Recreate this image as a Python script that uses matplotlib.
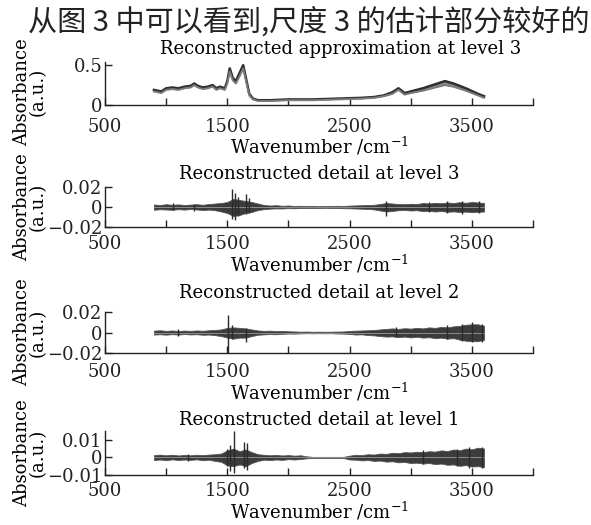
import matplotlib
matplotlib.use("Agg")
import matplotlib.pyplot as plt

plt.rcParams['font.family'] = ['DejaVu Serif']
plt.rcParams['mathtext.fontset'] = 'dejavuserif'
plt.rcParams['font.size'] = 13

# page text above the figure
caption = "从图 3 中可以看到,尺度 3 的估计部分较好的"

# x ticks (cm^-1)
xticks = [500, 1000, 1500, 2000, 2500, 3000, 3500, 4000]
xticklabels = ['500', '', '1500', '', '2500', '', '3500', '']

# reconstructed approximation at level 3: upper (dark) and lower (light) traces
wn_approx = [900, 930, 960, 1000, 1050, 1100, 1150, 1200, 1230, 1260, 1300, 1340,
             1380, 1410, 1440, 1480, 1500, 1520, 1545, 1570, 1600, 1630, 1655,
             1680, 1710, 1750, 1850, 2000, 2200, 2400, 2600, 2700, 2780, 2850,
             2900, 2950, 3000, 3100, 3200, 3280, 3350, 3450, 3550, 3600]
approx_upper = [0.19, 0.18, 0.17, 0.21, 0.22, 0.21, 0.23, 0.24, 0.27, 0.24, 0.22, 0.23,
                0.25, 0.21, 0.23, 0.21, 0.30, 0.46, 0.34, 0.30, 0.40, 0.50, 0.32,
                0.14, 0.08, 0.06, 0.06, 0.07, 0.07, 0.08, 0.09, 0.10, 0.12, 0.16,
                0.21, 0.15, 0.17, 0.21, 0.26, 0.30, 0.27, 0.21, 0.14, 0.11]
approx_lower = [0.17, 0.16, 0.15, 0.19, 0.20, 0.19, 0.21, 0.22, 0.25, 0.22, 0.20, 0.21,
                0.23, 0.19, 0.21, 0.19, 0.27, 0.42, 0.31, 0.27, 0.36, 0.46, 0.29,
                0.12, 0.07, 0.05, 0.05, 0.06, 0.06, 0.07, 0.08, 0.09, 0.11, 0.14,
                0.19, 0.13, 0.15, 0.18, 0.22, 0.25, 0.23, 0.18, 0.12, 0.09]

# detail envelopes, sampled every 50 cm^-1 from 900 to 3600 (units of 0.001)
wn_detail = [900, 950, 1000, 1050, 1100, 1150, 1200, 1250, 1300, 1350, 1400, 1450,
             1500, 1550, 1600, 1650, 1700, 1750, 1800, 1850, 1900, 1950, 2000, 2050,
             2100, 2150, 2200, 2250, 2300, 2350, 2400, 2450, 2500, 2550, 2600, 2650,
             2700, 2750, 2800, 2850, 2900, 2950, 3000, 3050, 3100, 3150, 3200, 3250,
             3300, 3350, 3400, 3450, 3500, 3550, 3600]

d3_upper = [2.5, 2.0, 2.8, 2.2, 2.6, 2.0, 2.4, 2.8, 2.2, 3.0, 3.5, 4.0,
            5.0, 8.0, 7.0, 6.0, 5.0, 3.5, 2.0, 1.5, 1.8, 1.2, 1.5, 1.0,
            1.2, 0.9, 1.0, 0.8, 1.0, 0.9, 1.2, 1.0, 1.4, 1.6, 1.8, 2.0,
            2.2, 3.0, 4.0, 3.5, 3.0, 2.8, 3.2, 3.0, 4.0, 3.5, 4.2, 3.8,
            4.5, 4.0, 4.8, 4.2, 5.0, 4.5, 4.0]
d3_lower = [2.8, 2.2, 2.5, 2.8, 2.2, 2.6, 2.0, 2.5, 3.0, 2.6, 3.2, 4.5,
            6.0, 9.0, 8.0, 6.0, 5.0, 3.0, 2.2, 1.6, 1.4, 1.5, 1.1, 1.3,
            1.0, 1.1, 0.9, 1.0, 0.8, 1.0, 1.0, 1.2, 1.3, 1.5, 1.7, 2.0,
            2.4, 3.5, 4.5, 4.0, 3.2, 3.0, 3.5, 3.2, 4.2, 3.8, 4.5, 4.0,
            4.8, 4.4, 5.0, 4.6, 5.2, 4.8, 4.5]

d2_upper = [1.8, 2.2, 1.6, 2.0, 1.5, 1.9, 1.6, 2.0, 1.7, 2.2, 2.5, 3.0,
            4.5, 5.0, 4.5, 4.0, 3.0, 2.0, 1.6, 1.8, 1.4, 1.6, 1.2, 1.0,
            0.8, 0.9, 0.7, 0.8, 0.7, 0.8, 0.9, 1.0, 1.5, 1.8, 2.0, 2.2,
            2.5, 3.0, 3.5, 4.0, 3.5, 4.2, 3.8, 4.5, 4.0, 5.0, 4.5, 5.5,
            5.0, 6.0, 6.5, 7.5, 8.0, 8.0, 6.5]
d2_lower = [2.0, 1.7, 2.1, 1.6, 2.0, 1.5, 1.9, 1.7, 2.2, 2.0, 2.6, 3.5,
            5.0, 6.0, 5.0, 5.0, 3.5, 2.2, 1.8, 1.5, 1.7, 1.3, 1.0, 1.1,
            0.9, 0.7, 0.8, 0.7, 0.8, 0.7, 1.0, 1.1, 1.4, 2.0, 1.8, 2.5,
            2.8, 3.5, 4.0, 3.8, 4.5, 4.0, 4.8, 4.2, 5.0, 4.6, 5.5, 5.0,
            6.0, 5.5, 7.0, 8.0, 8.5, 8.5, 7.0]

d1_upper = [1.3, 1.6, 1.2, 1.5, 1.1, 1.4, 1.2, 1.5, 1.3, 1.6, 1.8, 2.2,
            4.0, 5.0, 3.5, 4.5, 3.0, 1.8, 1.5, 1.2, 1.4, 1.1, 1.3, 1.0,
            1.2, 0.6, 0.3, 0.3, 0.3, 0.3, 0.3, 0.3, 1.0, 1.5, 1.3, 1.8,
            1.6, 2.2, 2.0, 2.6, 2.4, 3.0, 2.8, 3.2, 3.0, 3.5, 3.3, 4.0,
            3.6, 4.5, 4.0, 5.0, 4.6, 5.5, 5.0]
d1_lower = [1.5, 1.2, 1.6, 1.1, 1.5, 1.2, 1.4, 1.1, 1.6, 1.3, 2.0, 2.5,
            4.5, 5.0, 4.0, 5.0, 3.2, 2.0, 1.3, 1.5, 1.2, 1.4, 1.0, 1.2,
            0.9, 0.5, 0.3, 0.3, 0.3, 0.3, 0.3, 0.3, 1.2, 1.3, 1.7, 1.5,
            2.0, 1.8, 2.4, 2.2, 2.8, 2.6, 3.2, 3.0, 3.5, 3.2, 3.8, 3.5,
            4.2, 4.0, 4.8, 4.4, 5.2, 5.0, 5.5]

# narrow spikes: position, top, bottom
d3_spikes = [(1535, 0.018, -0.012), (1560, 0.014, -0.013), (1585, 0.010, -0.009),
             (1650, 0.013, -0.007), (1680, 0.009, -0.006), (2800, 0.006, -0.009),
             (1060, 0.004, -0.003), (1230, 0.003, -0.004), (3150, 0.005, -0.005),
             (3300, 0.006, -0.006), (3420, 0.006, -0.007), (3560, 0.006, -0.006)]
d2_spikes = [(1505, 0.017, -0.020), (1655, 0.004, -0.009), (1540, 0.007, -0.006),
             (3500, 0.010, -0.009), (3420, 0.008, -0.008), (3300, 0.007, -0.006),
             (3580, 0.008, -0.009), (2880, 0.005, -0.004), (1100, 0.003, -0.003)]
d1_spikes = [(1525, 0.007, -0.008), (1555, 0.015, -0.009), (1640, 0.009, -0.006),
             (1665, 0.008, -0.007), (1500, 0.005, -0.005), (3380, 0.005, -0.005),
             (3480, 0.006, -0.006), (3580, 0.006, -0.006), (3100, 0.004, -0.004),
             (1180, 0.002, -0.002)]

titles = ["Reconstructed approximation at level 3",
          "Reconstructed detail at level 3",
          "Reconstructed detail at level 2",
          "Reconstructed detail at level 1"]

fig = plt.figure(figsize=(5.91, 5.25), dpi=100)
fig.text(28 / 591, 1 - 22 / 525, caption, ha='left', va='center', fontsize=21,
         family=['Noto Sans CJK SC', 'DejaVu Sans'], color='#222222')

left, width = 105 / 591, 428 / 591
rows = [(62, 105), (187, 227), (312, 353), (431, 475)]
title_pads = [6, 6, 10, 4]
tick_pads = [9, 6, 7, 5]
axes = []
for top, bot in rows:
    ax = fig.add_axes([left, 1 - bot / 525, width, (bot - top) / 525])
    axes.append(ax)


def style(ax, i, yticks, yticklabels, ylim, title_x=0.5, ylab_y=0.5):
    ax.set_xlim(500, 4000)
    ax.set_ylim(*ylim)
    ax.set_xticks(xticks)
    ax.set_xticklabels(xticklabels)
    ax.set_yticks(yticks)
    ax.set_yticklabels(yticklabels)
    ax.spines['top'].set_visible(False)
    ax.spines['right'].set_visible(False)
    for s in ['left', 'bottom']:
        ax.spines[s].set_color('#222222')
        ax.spines[s].set_linewidth(1.0)
    ax.tick_params(direction='in', length=5, width=1, colors='#222222',
                   labelsize=13)
    ax.tick_params(axis='x', pad=tick_pads[i])
    ax.tick_params(axis='y', pad=2)
    ax.set_title(titles[i], fontsize=13, pad=title_pads[i], x=title_x)
    ax.set_xlabel('Wavenumber /cm$^{-1}$', fontsize=13, labelpad=0)
    ax.set_ylabel('Absorbance\n(a.u.)', fontsize=13, linespacing=0.8)
    ax.yaxis.set_label_coords(-0.137, ylab_y)


# level 3 approximation
ax = axes[0]
ax.fill_between(wn_approx, approx_lower, approx_upper, color='#8c8c8c', lw=0)
ax.plot(wn_approx, approx_upper, color='#2e2e2e', lw=1.8)
ax.plot(wn_approx, approx_lower, color='#7a7a7a', lw=1.4)
style(ax, 0, [0, 0.5], ['0', '0.5'], (0, 0.54), title_x=0.55, ylab_y=0.3)


def draw_detail(ax, upper, lower, spikes):
    up = [v / 1000 for v in upper]
    lo = [-v / 1000 for v in lower]
    ax.fill_between(wn_detail, lo, up, color='#3c3c3c', lw=0.6, edgecolor='#555555')
    ax.plot(wn_detail, [0] * len(wn_detail), color='#9a9a9a', lw=0.6)
    for x, t, b in spikes:
        ax.vlines(x, b, t, color='#2a2a2a', lw=1.0)


draw_detail(axes[1], d3_upper, d3_lower, d3_spikes)
style(axes[1], 1, [-0.02, 0, 0.02], ['\u22120.02', '0', '0.02'], (-0.02, 0.02))

draw_detail(axes[2], d2_upper, d2_lower, d2_spikes)
style(axes[2], 2, [-0.02, 0, 0.02], ['\u22120.02', '0', '0.02'], (-0.02, 0.02))

draw_detail(axes[3], d1_upper, d1_lower, d1_spikes)
style(axes[3], 3, [-0.01, 0, 0.01], ['\u22120.01', '0', '0.01'], (-0.01, 0.015))

fig.savefig('out.png', dpi=100)
